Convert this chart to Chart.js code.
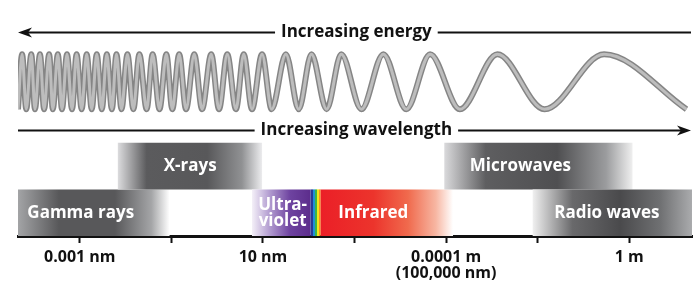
<!DOCTYPE html>
<html>
<head>
<meta charset="utf-8">
<script src="https://cdn.jsdelivr.net/npm/chart.js@4"></script>
<style>
  html, body { margin: 0; padding: 0; background: #fff; }
</style>
</head>
<body>
<canvas id="spectrum" width="695" height="283"></canvas>
<script>
// x axis = log10 of wavelength in metres
const tickValues = [-12, -10, -8, -6, -4, -2, 0];
const tickLabels = ['0.001 nm', '', '10 nm', '', ['0.0001 m', '(100,000 nm)'], '', '1 m'];

// bands of the spectrum (row 0 = lower strip, row 1 = upper strip)
const bandNames = ['Gamma rays', 'X-rays', ['Ultra-', 'violet'], '', 'Infrared', 'Microwaves', 'Radio waves'];
const bandStart = [-13.35, -11.17, -8.24, -6.96, -6.74, -4.04, -2.11];
const bandEnd = [-10.04, -8.02, -6.96, -6.74, -3.85, 0.07, 1.37];
const bandRow = [0, 1, 0, 0, 0, 1, 0];
const bandLabelAt = [-11.98, -9.59, -7.57, null, -5.59, -2.38, -0.49];

// wave drawing: where the crests and troughs sit along the axis
const waveCrests = [-13.26, -13.06, -12.87, -12.67, -12.48, -12.28, -12.07, -11.85, -11.63, -11.41,
  -11.20, -10.96, -10.70, -10.41, -10.11, -9.83, -9.50, -9.13, -8.78, -8.42,
  -8.02, -7.50, -6.94, -6.29, -5.37, -4.35, -2.88, -0.55];
const waveTroughs = [-13.35, -13.17, -12.98, -12.78, -12.59, -12.39, -12.17, -11.96, -11.74, -11.52,
  -11.30, -11.09, -10.83, -10.54, -10.26, -9.98, -9.68, -9.33, -8.96, -8.59,
  -8.24, -7.81, -7.22, -6.61, -5.85, -4.87, -3.70, -1.85, 1.25];

const arrowLabels = ['Increasing energy', 'Increasing wavelength'];
const arrowDir = [-1, 1];

// layout (y axis runs 0..5, one unit per strip)
const ARROW_LEVEL = [4.37, 2.28];
const ARROW_LABEL_AT = -5.96;
const WAVE_TOP = 3.9;
const WAVE_BOTTOM = 2.72;
const FONT = '"Open Sans", "Liberation Sans", sans-serif';

// colour ramps for each band
const bandFill = [
  [[0, '#a3a4a6'], [0.27, '#58585a'], [0.64, '#58585a'], [0.88, '#a4a5a7'], [1, '#ffffff']],
  [[0, '#dcdcde'], [0.2, '#5b5b5d'], [0.62, '#58585a'], [0.86, '#909193'], [1, '#ececee']],
  [[0, '#f4f0f8'], [0.3, '#b29cd0'], [0.65, '#6e43a0'], [1, '#5c2d8c']],
  [[0, '#263a96'], [0.2, '#263a96'], [0.2, '#1f8fd6'], [0.4, '#1f8fd6'], [0.4, '#39b54a'],
   [0.6, '#39b54a'], [0.6, '#f2e51a'], [0.8, '#f2e51a'], [0.8, '#f7941d'], [1, '#f7941d']],
  [[0, '#eb1f27'], [0.4, '#ec342c'], [0.66, '#f06a4d'], [0.87, '#f7b6a2'], [1, '#ffffff']],
  [[0, '#dadadc'], [0.22, '#5e5e60'], [0.6, '#4f4f51'], [0.86, '#9b9c9e'], [1, '#efefef']],
  [[0, '#f0f0f0'], [0.25, '#69696b'], [0.55, '#4a4a4c'], [0.8, '#6f7072'], [1, '#aaabad']]
];

function bandGradient(c) {
  const i = c.dataIndex;
  const xs = c.chart.scales.x;
  if (i === undefined || !xs) return '#555';
  const x0 = xs.getPixelForValue(bandStart[i]);
  const x1 = xs.getPixelForValue(bandEnd[i]);
  if (!isFinite(x0) || !isFinite(x1)) return '#555';
  const g = c.chart.ctx.createLinearGradient(x0, 0, x1, 0);
  bandFill[i].forEach(([o, col]) => g.addColorStop(o, col));
  return g;
}

const wavePoints = waveCrests.map(v => ({x: v, y: WAVE_TOP}))
  .concat(waveTroughs.map(v => ({x: v, y: WAVE_BOTTOM})))
  .sort((a, b) => a.x - b.x);

// band names and the two arrows
const spectrumText = {
  id: 'spectrumText',
  afterDatasetsDraw(chart) {
    const {ctx, chartArea, scales: {x, y}} = chart;
    ctx.save();
    ctx.textAlign = 'center';
    ctx.textBaseline = 'middle';

    ctx.fillStyle = '#ffffff';
    ctx.font = '700 17px ' + FONT;
    bandNames.forEach((name, i) => {
      if (!name) return;
      const lines = [].concat(name);
      const cx = x.getPixelForValue(bandLabelAt[i]);
      const cy = y.getPixelForValue(bandRow[i] + 0.5);
      lines.forEach((t, k) => ctx.fillText(t, cx, cy + (k - (lines.length - 1) / 2) * 16));
    });

    ctx.fillStyle = '#111';
    ctx.strokeStyle = '#111';
    ctx.lineWidth = 2;
    arrowLabels.forEach((label, i) => {
      const cy = Math.round(y.getPixelForValue(ARROW_LEVEL[i])) + 0.5;
      const cx = x.getPixelForValue(ARROW_LABEL_AT);
      const w = ctx.measureText(label).width;
      const left = chartArea.left, right = chartArea.right - 1;
      ctx.fillText(label, cx, cy);
      ctx.beginPath();
      ctx.moveTo(left + (arrowDir[i] < 0 ? 8 : 0), cy);
      ctx.lineTo(cx - w / 2 - 6, cy);
      ctx.moveTo(cx + w / 2 + 6, cy);
      ctx.lineTo(right - (arrowDir[i] > 0 ? 8 : 0), cy);
      ctx.stroke();
      const tip = arrowDir[i] < 0 ? left : right;
      const d = -arrowDir[i];
      ctx.beginPath();
      ctx.moveTo(tip, cy);
      ctx.lineTo(tip + d * 14, cy - 5);
      ctx.lineTo(tip + d * 10, cy);
      ctx.lineTo(tip + d * 14, cy + 5);
      ctx.closePath();
      ctx.fill();
    });
    ctx.restore();
  }
};

const chart = new Chart(document.getElementById('spectrum'), {
  type: 'bar',
  data: {
    datasets: [
      {
        type: 'bar',
        order: 2,
        indexAxis: 'y',
        data: bandStart.map((s, i) => ({y: bandRow[i] + 0.5, x: [s, bandEnd[i]]})),
        backgroundColor: bandGradient,
        borderWidth: 0,
        borderSkipped: false,
        barPercentage: 1,
        categoryPercentage: 1,
        inflateAmount: 0
      },
      {
        // ribbon edge
        type: 'line',
        order: 1,
        indexAxis: 'x',
        data: wavePoints,
        borderColor: '#858585',
        borderWidth: 6,
        pointRadius: 0,
        cubicInterpolationMode: 'monotone',
        fill: false
      },
      {
        // ribbon face
        type: 'line',
        order: 0,
        indexAxis: 'x',
        data: wavePoints,
        borderColor: '#bdbdbd',
        borderWidth: 3,
        pointRadius: 0,
        cubicInterpolationMode: 'monotone',
        fill: false
      }
    ]
  },
  options: {
    responsive: false,
    animation: false,
    events: [],
    layout: { padding: { left: 18, right: 0, top: 0, bottom: -4 } },
    plugins: {
      legend: { display: false },
      tooltip: { enabled: false }
    },
    scales: {
      x: {
        type: 'linear',
        position: 'bottom',
        min: -13.35,
        max: 1.37,
        offset: false,
        afterBuildTicks: s => { s.ticks = tickValues.map(v => ({value: v})); },
        grid: {
          drawOnChartArea: false,
          offset: false,
          tickLength: 7,
          tickWidth: 2,
          tickColor: '#111'
        },
        border: { display: true, width: 3, color: '#111' },
        ticks: {
          autoSkip: false,
          maxRotation: 0,
          padding: 6,
          color: '#111',
          font: { family: FONT, weight: '700', size: 16, lineHeight: '16px' },
          callback: v => tickLabels[tickValues.indexOf(v)]
        }
      },
      y: {
        type: 'linear',
        display: false,
        min: 0,
        max: 5,
        offset: false,
        afterBuildTicks: s => { s.ticks = [{value: 0}, {value: 5}]; }
      }
    }
  },
  plugins: [spectrumText]
});
// second pass so the band gradients see the laid-out scale
chart.update();
</script>
</body>
</html>
